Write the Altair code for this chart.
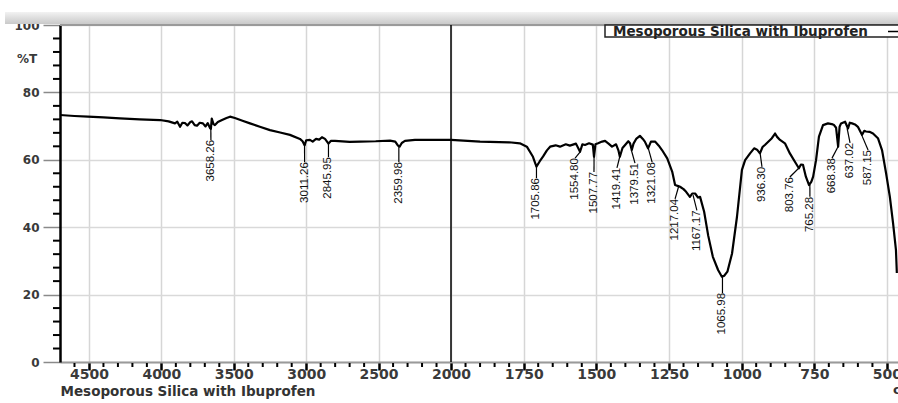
import altair as alt
import pandas as pd

# ---------------- data ----------------
wavenumber = [4700, 4600, 4507, 4400, 4286, 4150, 4009, 3950, 3906, 3890, 3871, 3855, 3837, 3820,
              3800, 3788, 3770, 3754, 3735, 3713, 3695, 3680, 3664, 3658, 3652, 3640, 3630, 3610,
              3581, 3550, 3526, 3492, 3440, 3388, 3320, 3250, 3180, 3112, 3043, 3025, 3011, 3000,
              2974, 2955, 2932, 2910, 2891, 2870, 2846, 2830, 2801, 2700, 2628, 2520, 2421, 2385,
              2366, 2355, 2340, 2318, 2249, 2150, 2000, 1900, 1800, 1763, 1739, 1718, 1706, 1695,
              1683, 1670, 1659, 1640, 1625, 1605, 1591, 1570, 1556, 1548, 1539, 1525, 1512, 1508,
              1503, 1494, 1480, 1470, 1458, 1446, 1432, 1424, 1419, 1410, 1401, 1390, 1384, 1378,
              1372, 1362, 1350, 1340, 1333, 1322, 1312, 1298, 1285, 1274, 1256, 1239, 1229, 1218,
              1212, 1200, 1191, 1178, 1170, 1160, 1150, 1143, 1129, 1115, 1099, 1081, 1068, 1060,
              1049, 1033, 1016, 999, 988, 971, 957, 947, 937, 928, 920, 896, 885, 878, 868, 851,
              834, 813, 803, 796, 789, 779, 768, 760, 754, 744, 734, 720, 703, 690, 682, 675, 668,
              663, 658, 644, 634, 628, 620, 610, 600, 586, 578, 572, 560, 548, 531, 517, 503, 490,
              479, 469, 466]
transmittance = [73.3, 73.0, 72.8, 72.6, 72.3, 72.0, 71.8, 71.4, 70.8, 71.3, 69.8, 71.0, 70.9, 70.2,
                 71.2, 71.4, 70.3, 70.1, 71.0, 70.8, 69.9, 70.9, 69.4, 69.2, 72.2, 70.6, 70.3, 71.2,
                 71.8, 72.4, 72.8, 72.4, 71.6, 70.8, 69.8, 68.8, 68.1, 67.4, 66.2, 65.5, 64.3, 65.8,
                 65.9, 65.4, 66.2, 66.0, 66.7, 66.2, 64.8, 65.6, 65.6, 65.3, 65.4, 65.5, 65.7, 65.4,
                 64.2, 63.9, 65.0, 65.6, 65.9, 65.9, 65.9, 65.4, 65.2, 64.9, 63.9, 60.9, 58.0, 59.5,
                 61.0, 62.8, 63.9, 64.3, 63.9, 64.6, 64.2, 64.8, 62.4, 64.6, 64.4, 64.9, 64.5, 60.9,
                 64.6, 64.9, 65.4, 65.6, 64.8, 63.9, 64.6, 62.8, 60.9, 63.5, 64.4, 65.5, 64.9, 62.9,
                 64.8, 66.3, 67.1, 66.2, 65.4, 63.4, 65.4, 65.4, 64.2, 62.9, 60.4, 56.5, 52.5, 52.2,
                 52.0, 51.3, 50.5, 49.0, 50.0, 50.0, 48.8, 49.0, 44.6, 37.5, 31.2, 27.3, 25.3, 25.6,
                 26.8, 32.2, 43.1, 57.0, 59.9, 61.9, 63.4, 63.0, 61.9, 63.8, 64.4, 66.4, 67.8, 66.8,
                 65.9, 64.9, 61.9, 58.9, 57.5, 58.6, 58.5, 55.0, 52.5, 53.5, 55.0, 59.9, 66.9, 70.3,
                 70.8, 70.6, 70.3, 69.5, 63.9, 69.8, 70.8, 71.3, 69.3, 71.0, 70.8, 70.5, 69.8, 67.4,
                 68.6, 68.4, 68.3, 67.8, 66.4, 62.9, 56.0, 49.0, 41.2, 33.2, 26.4]

peak_labels = ["3658.26", "3011.26", "2845.95", "2359.98", "1705.86", "1554.80", "1507.77",
               "1419.41", "1379.51", "1321.08", "1217.04", "1167.17", "1065.98", "936.30",
               "803.76", "765.28", "668.38", "637.02", "587.15"]
peak_wn = [3658.26, 3011.26, 2845.95, 2359.98, 1705.86, 1554.80, 1507.77, 1419.41, 1379.51,
           1321.08, 1217.04, 1167.17, 1065.98, 936.30, 803.76, 765.28, 668.38, 637.02, 587.15]
peak_t = [69.2, 64.3, 64.8, 63.9, 58.0, 62.4, 60.9, 60.9, 62.9, 63.4, 52.0, 49.5, 25.3, 61.9,
          57.5, 52.5, 63.9, 69.3, 67.4]
label_wn = [3658, 3011, 2846, 2360, 1706, 1573, 1508, 1429, 1367, 1308, 1229, 1154, 1066, 930,
            834, 765, 689, 627, 565]
label_t = [65.9, 59.3, 60.8, 59.3, 54.6, 60.5, 56.4, 57.6, 59.0, 59.3, 48.4, 45.0, 20.5, 57.9,
           54.9, 49.0, 60.5, 65.0, 62.9]

x_major = [4500, 4000, 3500, 3000, 2500, 2000, 1750, 1500, 1250, 1000, 750, 500]
x_minor = [4600, 4400, 4300, 4200, 4100, 3900, 3800, 3700, 3600, 3400, 3300, 3200, 3100,
           2900, 2800, 2700, 2600, 2400, 2300, 2200, 2100, 1950, 1900, 1850, 1800, 1700,
           1650, 1600, 1550, 1450, 1400, 1350, 1300, 1200, 1150, 1100, 1050, 950, 900, 850,
           800, 700, 650, 600, 550]
y_major = [0, 20, 40, 60, 80, 100]
y_minor = [4, 8, 12, 16, 24, 28, 32, 36, 44, 48, 52, 56, 64, 68, 72, 76, 84, 88, 92, 96]

series_name = "Mesoporous Silica with Ibuprofen"

# ---------------- chart ----------------
W, H = 838, 337
FONT = "DejaVu Sans"

xscale = alt.Scale(domain=[4700, 2000, 462], range=[0, 391, W], nice=False, zero=False)
yscale = alt.Scale(domain=[0, 100], nice=False, zero=False)

xaxis = alt.Axis(values=x_major, format="d", title=series_name, grid=True,
                 gridColor="#d6d6d6", gridWidth=1.5,
                 domainColor="#9a9a9a", domainWidth=2,
                 tickColor="#000000", tickWidth=2.5, tickSize=8,
                 labelFont=FONT, labelFontWeight="bold", labelFontSize=14,
                 labelColor="#3a3a3a", labelPadding=-3, labelFlush=False,
                 titleFont=FONT, titleFontWeight="bold", titleFontSize=13.5,
                 titleColor="#333333", titleX=0, titleY=33, titleAlign="left",
                 titleAnchor="start", titleBaseline="alphabetic")
yaxis = alt.Axis(values=y_major, title=None, grid=True, gridColor="#d9d9d9", gridWidth=1.5,
                 domainColor="#000000", domainWidth=2.5,
                 tickColor="#8a8a8a", tickWidth=1.5, tickSize=17,
                 labelFont=FONT, labelFontWeight="bold", labelFontSize=12,
                 labelColor="#3a3a3a", labelPadding=4)

spec = pd.DataFrame({"wn": wavenumber, "t": transmittance})
peaks = pd.DataFrame({"label": peak_labels, "wn": peak_wn, "t": peak_t,
                      "lx": label_wn, "lt": label_t})
xmin = pd.DataFrame({"wn": x_minor})
ymin = pd.DataFrame({"t": y_minor})
one = pd.DataFrame({"k": [0]})

X = lambda f: alt.X(f, type="quantitative", scale=xscale, axis=xaxis)
Y = lambda f: alt.Y(f, type="quantitative", scale=yscale, axis=yaxis)

strip = alt.Chart(one).mark_rect(
    fill={"gradient": "linear", "x1": 0, "y1": 0, "x2": 0, "y2": 1,
          "stops": [{"offset": 0, "color": "#f2f2f2"}, {"offset": 1, "color": "#c9c9c9"}]}
).encode(x=alt.value(-55), x2=alt.value(W + 5), y=alt.value(-13), y2=alt.value(-1))

top_rule = alt.Chart(one).mark_rule(color="#9a9a9a", strokeWidth=2).encode(
    y=alt.Y(datum=100, type="quantitative", scale=yscale, axis=yaxis))
break_rule = alt.Chart(one).mark_rule(color="#000000", strokeWidth=1.5).encode(
    x=alt.X(datum=2000, type="quantitative", scale=xscale, axis=xaxis))

line = alt.Chart(spec).mark_line(color="#000000", strokeWidth=2.2, strokeJoin="round").encode(
    x=X("wn"), y=Y("t"))

xminor = alt.Chart(xmin).mark_rule(color="#000000", strokeWidth=2).encode(
    x=X("wn"), y=alt.value(H + 1), y2=alt.value(H + 5))
yminor = alt.Chart(ymin).mark_rule(color="#000000", strokeWidth=2).encode(
    y=Y("t"), x=alt.value(-7), x2=alt.value(0))

leaders = alt.Chart(peaks).mark_rule(color="#000000", strokeWidth=1.2).encode(
    x=X("wn"), y=Y("t"), x2="lx", y2="lt")
peak_text = alt.Chart(peaks).mark_text(
    angle=270, align="right", baseline="middle", font="Liberation Sans",
    fontSize=11.5, color="#111111"
).encode(x=X("lx"), y=Y("lt"), text="label")

legend_box = alt.Chart(one).mark_rect(fill="#ffffff", stroke="#222222", strokeWidth=1.5).encode(
    x=alt.value(545), x2=alt.value(W + 10), y=alt.value(0), y2=alt.value(12))
legend_text = alt.Chart(pd.DataFrame({"s": [series_name]})).mark_text(
    align="left", baseline="middle", font=FONT, fontWeight="bold", fontSize=13.5,
    color="#222222").encode(x=alt.value(553), y=alt.value(6.5), text="s")
legend_line = alt.Chart(one).mark_rule(color="#000000", strokeWidth=1.5).encode(
    x=alt.value(828), x2=alt.value(W + 10), y=alt.value(6.5), y2=alt.value(6.5))

pct = alt.Chart(pd.DataFrame({"s": ["%T"]})).mark_text(
    align="center", baseline="middle", font=FONT, fontWeight="bold", fontSize=12,
    color="#3a3a3a").encode(x=alt.value(-33),
                            y=alt.Y(datum=90, type="quantitative", scale=yscale, axis=yaxis),
                            text="s")
unit = alt.Chart(pd.DataFrame({"s": ["cm-1"]})).mark_text(
    align="left", baseline="middle", font=FONT, fontWeight="bold", fontSize=13,
    color="#333333").encode(x=alt.value(833), y=alt.value(365), text="s")

chart = alt.layer(
    strip, top_rule, break_rule, line, xminor, yminor, leaders, peak_text,
    legend_box, legend_text, legend_line, pct, unit
).properties(
    width=W, height=H,
    padding={"left": 60, "top": 25, "right": 0, "bottom": 41},
    autosize=alt.AutoSizeParams(type="none"),
).configure_view(stroke=None).configure(background="#ffffff")

chart.save("out.html", embed_options={"renderer": "svg", "actions": False})
